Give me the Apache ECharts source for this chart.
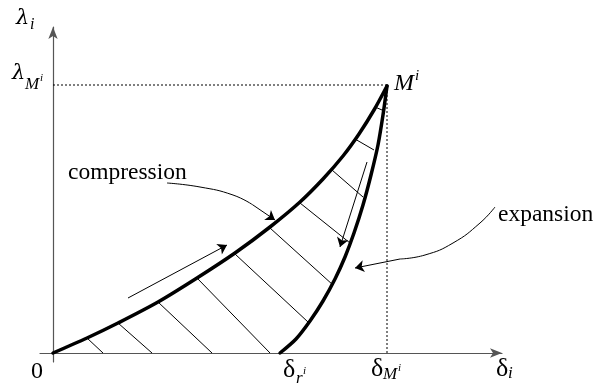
<!DOCTYPE html>
<html><head><meta charset="utf-8">
<script src="https://cdn.jsdelivr.net/npm/echarts@6/dist/echarts.min.js"></script>
<style>html,body{margin:0;padding:0;background:#fff}#c{width:597px;height:387px}</style>
</head><body><div id="c"></div>
<script>
// Schematic coordinates (delta_i, lambda_i) in arbitrary units
const compression = [[0,0],[34,15],[65,30],[105,51],[144,75],[182,100],[217,126],[247,151],[270,174],[290,197],[306,219],[321,243],[334,267]];
const expansion = [[227,0],[243,14],[257,32],[270,52],[282,74],[292,96],[301,120],[310,148],[318,178],[325,208],[330,238],[334,267]];
const hatches = [
  [[34,15],[50,0]], [[65,30],[99,0]], [[105,51],[159,0]], [[144,75],[217,0]],
  [[182,99],[255,31]], [[217,125],[280,68]], [[247,150],[297,110]], [[279,183],[310,156]],
  [[302,214],[321,203]], [[322,246],[329,243]]
];
const loadArrow = [[75,55],[174,108]];
const unloadArrow = [[314,191],[287,106]];
const compressionLeader = [[114,170],[147,166],[180,158],[200,148],[222,133]];
const expansionLeader = [[442,146],[427,130],[400,110],[372,98],[347,94],[302,85]];
const pointM = [334,268];

const chart = echarts.init(document.getElementById('c'));
const serif = 'Liberation Serif';
const thick = {color:'#000', width:3.5, cap:'round', join:'round'};
function lineSeries(data, style, smooth){
  return {type:'line', data:data, symbol:'none', smooth:smooth, lineStyle:style, silent:true, animation:false};
}
function segs(list, width, arrow){
  return {type:'lines', coordinateSystem:'cartesian2d', animation:false, silent:true,
    symbol: arrow ? ['none','arrow'] : 'none', symbolSize: arrow ? 9 : 0,
    lineStyle:{color:'#000', width:width, opacity:1},
    data: list.map(c=>({coords:c}))};
}
const cl = compressionLeader, el = expansionLeader;
const option = {
  animation:false,
  grid:{left:40, right:95, top:27, bottom:25},
  xAxis:{type:'value', min:-13, max:449, axisLabel:{show:false}, axisTick:{show:false}, splitLine:{show:false},
    axisLine:{lineStyle:{color:'#555', width:1.2}, symbol:['none','arrow'], symbolSize:[7,12]}},
  yAxis:{type:'value', min:-9, max:326, axisLabel:{show:false}, axisTick:{show:false}, splitLine:{show:false},
    axisLine:{lineStyle:{color:'#555', width:1.2}, symbol:['none','arrow'], symbolSize:[7,12]}},
  series:[
    lineSeries([[0,pointM[1]],pointM], {color:'#000', width:1, type:[2,2]}, false),
    lineSeries([[pointM[0],0],pointM], {color:'#000', width:1, type:[2,2]}, false),
    segs(hatches, 1, false),
    lineSeries(compression, thick, 0.3),
    lineSeries(expansion, thick, 0.3),
    segs([loadArrow, unloadArrow], 1, true),
    lineSeries(cl.slice(0,-1), {color:'#000', width:1}, 0.5),
    lineSeries(el.slice(0,-1), {color:'#000', width:1}, 0.5),
    segs([[cl[cl.length-2], cl[cl.length-1]], [el[el.length-2], el[el.length-1]]], 1, true)
  ]
};
chart.setOption(option);

// text annotations: [text, u, v, fontSize, italic, align, family]
const greek = 'DejaVu Serif';
const texts = [
  ['λ', -37, 334, 21, true, 'left', greek], ['i', -23, 328, 16, true, 'left', serif],
  ['λ', -41, 279, 21, true, 'left', greek], ['M', -28, 268, 17, true, 'left', serif], ['i', -13, 275, 11, true, 'left', serif],
  ['M', 341, 269, 24, true, 'left', serif], ['i', 362, 277, 15, true, 'left', serif],
  ['0', -16, -19, 24, false, 'center', serif],
  ['δ', 230, -17, 26, false, 'left', serif], ['r', 243, -26, 17, true, 'left', serif], ['i', 250, -18, 11, true, 'left', serif],
  ['δ', 318, -16, 26, false, 'left', serif], ['M', 330, -22, 17, true, 'left', serif], ['i', 345, -15, 11, true, 'left', serif],
  ['δ', 443, -16, 26, false, 'left', serif], ['i', 455, -21, 17, true, 'left', serif],
  ['compression', 15, 180, 23.5, false, 'left', serif],
  ['expansion', 445, 138, 23.5, false, 'left', serif]
];
const graphics = texts.map(t=>{
  const p = chart.convertToPixel({gridIndex:0}, [t[1], t[2]]);
  return {type:'text', x:p[0], y:p[1], silent:true,
    style:{text:t[0], fill:'#000', font:(t[4]?'italic ':'')+t[3]+'px "'+t[6]+'"', textAlign:t[5], textVerticalAlign:'middle'}};
});
chart.setOption({graphic:graphics});
</script></body></html>
